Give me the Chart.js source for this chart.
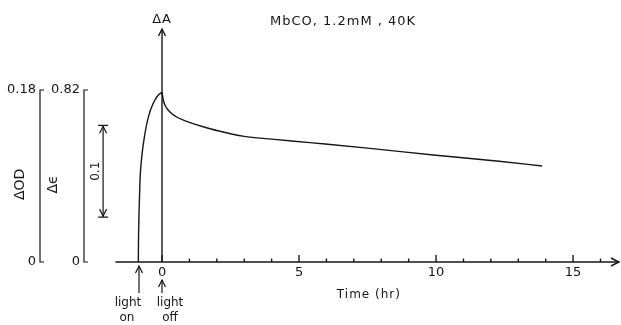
<!DOCTYPE html>
<html>
<head>
<meta charset="utf-8">
<script src="https://cdn.jsdelivr.net/npm/chart.js@4/dist/chart.umd.min.js"></script>
<style>
  body { margin: 0; background: #fff; }
  canvas { display: block; }
</style>
</head>
<body>
<canvas id="mbco" width="621" height="325"></canvas>
<script>
// light on -> light off: rise of photoproduct (delta epsilon units)
var riseHours = [-0.865, -0.858, -0.839, -0.803, -0.741, -0.62, -0.5, -0.317, -0.135, 0];
var riseDeltaEps = [0, 0.1, 0.234, 0.391, 0.50, 0.615, 0.691, 0.758, 0.796, 0.809];
// after light off: relaxation
var decayHours = [0, 0.05, 0.12, 0.2, 0.35, 0.55, 0.8, 1.1, 1.5, 2.0, 3.0, 4.0, 5.4, 7.5, 9.9, 12.3, 13.87];
var decayDeltaEps = [0.809, 0.77, 0.745, 0.728, 0.708, 0.69, 0.675, 0.661, 0.645, 0.627, 0.599, 0.586, 0.569, 0.543, 0.51, 0.48, 0.458];

var xHourTicks = [-1, 0, 1, 2, 3, 4, 5, 6, 7, 8, 9, 10, 11, 12, 13, 14, 15, 16];
var xLabelled = [0, 5, 10, 15];
var epsTicks = [0, 0.82];
var odTicks = [0, 0.18];

var lightOnHr = -0.84;
var lightOffHr = 0;

var ink = '#161616';
var font = 'DejaVu Sans';

function pts(xs, ys) {
  return xs.map(function (x, i) { return { x: x, y: ys[i] }; });
}

function arrowHead(ctx, x, y, dir) {
  // open V arrow head
  ctx.beginPath();
  if (dir === 'up') {
    ctx.moveTo(x - 3.5, y + 7); ctx.lineTo(x, y); ctx.lineTo(x + 3.5, y + 7);
  } else if (dir === 'down') {
    ctx.moveTo(x - 3.5, y - 7); ctx.lineTo(x, y); ctx.lineTo(x + 3.5, y - 7);
  } else {
    ctx.moveTo(x - 8, y - 4); ctx.lineTo(x, y); ctx.lineTo(x - 8, y + 4);
  }
  ctx.stroke();
}

function vText(ctx, txt, x, y) {
  ctx.save();
  ctx.translate(x, y);
  ctx.rotate(-Math.PI / 2);
  ctx.fillText(txt, 0, 0);
  ctx.restore();
}

var decorations = {
  id: 'decorations',
  afterDraw: function (chart) {
    var ctx = chart.ctx;
    var xs = chart.scales.x, ye = chart.scales.y, yo = chart.scales.yOD;
    var base = ye.getPixelForValue(0);
    ctx.save();
    ctx.strokeStyle = ink;
    ctx.fillStyle = ink;
    ctx.lineWidth = 1.4;

    // time axis with arrow
    var x0 = xs.getPixelForValue(-1.7);
    var xEnd = chart.width - 2;
    ctx.beginPath(); ctx.moveTo(x0, base); ctx.lineTo(xEnd, base); ctx.stroke();
    arrowHead(ctx, xEnd, base, 'right');
    xs.ticks.forEach(function (t) {
      if (t.value < 0) return;
      var px = xs.getPixelForValue(t.value);
      var h = xLabelled.indexOf(t.value) >= 0 ? 7 : 3.5;
      ctx.beginPath(); ctx.moveTo(px, base); ctx.lineTo(px, base - h); ctx.stroke();
    });

    // delta A axis at t = 0
    var xa = xs.getPixelForValue(0);
    var top = chart.chartArea.top;
    ctx.beginPath(); ctx.moveTo(xa, base); ctx.lineTo(xa, top); ctx.stroke();
    arrowHead(ctx, xa, top, 'up');
    ctx.font = '13px "' + font + '"';
    ctx.textAlign = 'center'; ctx.textBaseline = 'middle';
    ctx.letterSpacing = '1px';
    ctx.fillText('\u0394A', xa, top - 9);
    ctx.textAlign = 'left';
    ctx.fillText('MbCO, 1.2mM , 40K', 270, 22);
    ctx.textAlign = 'center';
    ctx.letterSpacing = '0px';

    // left vertical scales, bracket ticks pointing right
    [[ye, epsTicks], [yo, odTicks]].forEach(function (s) {
      var sc = s[0], lx = sc.right;
      var p0 = sc.getPixelForValue(s[1][0]), p1 = sc.getPixelForValue(s[1][1]);
      ctx.lineWidth = 1.2;
      ctx.beginPath();
      ctx.moveTo(lx + 4, p1); ctx.lineTo(lx, p1); ctx.lineTo(lx, p0); ctx.lineTo(lx + 4, p0);
      ctx.stroke();
    });
    // axis names
    var midY = ye.getPixelForValue(0.37);
    ctx.font = '14px "' + font + '"';
    vText(ctx, '\u0394OD', yo.left + 20, midY);
    vText(ctx, '\u0394\u03f5', ye.left + 13, midY);

    // 0.1 delta OD scale bar
    ctx.lineWidth = 1.2;
    var bx = xs.getPixelForValue(-2.15);
    var b0 = yo.getPixelForValue(0.047), b1 = yo.getPixelForValue(0.143);
    ctx.beginPath();
    ctx.moveTo(bx, b0); ctx.lineTo(bx, b1);
    ctx.moveTo(bx - 5, b0); ctx.lineTo(bx + 5, b0);
    ctx.moveTo(bx - 5, b1); ctx.lineTo(bx + 5, b1);
    ctx.stroke();
    arrowHead(ctx, bx, b1 + 1, 'up');
    arrowHead(ctx, bx, b0 - 1, 'down');
    ctx.font = '12px "' + font + '"';
    vText(ctx, '0.1', bx - 7, (b0 + b1) / 2);

    // light on / light off markers
    ctx.lineWidth = 1.2;
    var xon = xs.getPixelForValue(lightOnHr);
    ctx.beginPath(); ctx.moveTo(xon, 293); ctx.lineTo(xon, base + 4); ctx.stroke();
    arrowHead(ctx, xon, base + 4, 'up');
    var xoff = xs.getPixelForValue(lightOffHr);
    ctx.beginPath(); ctx.moveTo(xoff, 293); ctx.lineTo(xoff, 280); ctx.stroke();
    arrowHead(ctx, xoff, 280, 'up');
    ctx.font = '12px "' + font + '"';
    ctx.fillText('light', xon - 11, 303);
    ctx.fillText('on', xon - 12, 318);
    ctx.fillText('light', xoff + 8, 303);
    ctx.fillText('off', xoff + 8, 318);

    // time axis title
    ctx.letterSpacing = '1px';
    ctx.fillText('Time (hr)', xs.getPixelForValue(7.55), 295);
    ctx.restore();
  }
};

new Chart(document.getElementById('mbco'), {
  type: 'scatter',
  data: {
    datasets: [{
      data: pts(riseHours, riseDeltaEps),
      showLine: true,
      pointRadius: 0,
      borderColor: ink,
      borderWidth: 1.4,
      cubicInterpolationMode: 'monotone'
    }, {
      data: pts(decayHours, decayDeltaEps),
      showLine: true,
      pointRadius: 0,
      borderColor: ink,
      borderWidth: 1.4,
      cubicInterpolationMode: 'monotone'
    }]
  },
  options: {
    responsive: false,
    animation: false,
    layout: { padding: { top: 29, right: 6, left: 0, bottom: 0 } },
    plugins: { legend: { display: false }, tooltip: { enabled: false } },
    scales: {
      x: {
        type: 'linear', position: 'bottom',
        min: -2.847, max: 16.53,
        grid: { display: false, drawTicks: false }, border: { display: false },
        afterBuildTicks: function (s) { s.ticks = xHourTicks.map(function (v) { return { value: v }; }); },
        afterFit: function (s) { s.height = 63; },
        ticks: {
          autoSkip: false, maxRotation: 0, padding: 3, color: ink,
          font: { family: font, size: 13 },
          callback: function (v) { return xLabelled.indexOf(v) >= 0 ? String(v) : ''; }
        }
      },
      y: {
        position: 'left', weight: 0,
        min: 0, max: 1.1108,
        grid: { display: false, drawTicks: false }, border: { display: false },
        afterBuildTicks: function (s) { s.ticks = epsTicks.map(function (v) { return { value: v }; }); },
        afterFit: function (s) { s.width = 44; },
        ticks: { padding: 4, color: ink, font: { family: font, size: 13 },
          callback: function (v) { return String(v); } }
      },
      yOD: {
        position: 'left', weight: 10,
        min: 0, max: 0.24383,
        grid: { display: false, drawTicks: false }, border: { display: false },
        afterBuildTicks: function (s) { s.ticks = odTicks.map(function (v) { return { value: v }; }); },
        afterFit: function (s) { s.width = 40; },
        ticks: { padding: 4, color: ink, font: { family: font, size: 13 },
          callback: function (v) { return String(v); } }
      }
    }
  },
  plugins: [decorations]
});
</script>
</body>
</html>
